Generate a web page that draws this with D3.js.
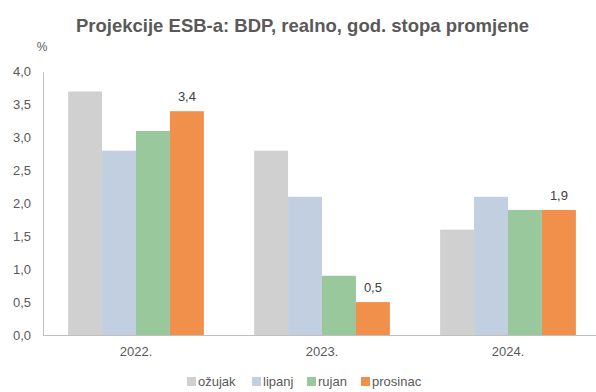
<!DOCTYPE html>
<html><head><meta charset="utf-8">
<script src="https://cdn.jsdelivr.net/npm/d3@7"></script>
<style>body{margin:0;background:#fff}svg{display:block}</style>
</head><body>
<svg id="c" width="596" height="392"></svg>
<script>
const categories = ["2022.", "2023.", "2024."];
const seriesNames = ["ožujak", "lipanj", "rujan", "prosinac"];
const ozujak = [3.7, 2.8, 1.6];
const lipanj = [2.8, 2.1, 2.1];
const rujan = [3.1, 0.9, 1.9];
const prosinac = [3.4, 0.5, 1.9];
const yTicks = [0, 0.5, 1, 1.5, 2, 2.5, 3, 3.5, 4];
const colors = ["#d0d0d0", "#c2cfe0", "#98c89b", "#f0904a"];
const series = [ozujak, lipanj, rujan, prosinac];

const svg = d3.select("#c");
const font = "'Liberation Sans', Arial, sans-serif";
const txt = "#595959";
const fmt = v => d3.format(".1f")(v).replace(".", ",");

const x0 = d3.scaleBand().domain(categories).range([43, 601]).paddingInner(0.27).paddingOuter(0.135);
const x1 = d3.scaleBand().domain(seriesNames).range([0, x0.bandwidth()]);
const y = d3.scaleLinear().domain([0, 4]).range([335, 71.7]);

svg.append("text").attr("x", 302.5).attr("y", 32).attr("text-anchor", "middle")
  .attr("font-family", font).attr("font-size", 18.5).attr("font-weight", "bold").attr("fill", txt)
  .text("Projekcije ESB-a: BDP, realno, god. stopa promjene");

svg.append("text").attr("x", 42).attr("y", 51).attr("text-anchor", "middle")
  .attr("font-family", font).attr("font-size", 12).attr("fill", txt).text("%");

const yAxis = svg.append("g").attr("transform", "translate(43,0)")
  .call(d3.axisLeft(y).tickValues(yTicks).tickFormat(fmt).tickSize(0).tickPadding(12));
yAxis.select(".domain").attr("stroke", "#bfbfbf");
yAxis.selectAll("text").attr("font-family", font).attr("font-size", 13).attr("fill", txt);

const g = svg.append("g");
categories.forEach((c, i) => {
  series.forEach((s, j) => {
    g.append("rect").attr("x", x0(c) + x1(seriesNames[j])).attr("y", y(s[i]))
      .attr("width", x1.bandwidth()).attr("height", y(0) - y(s[i])).attr("fill", colors[j]);
  });
  g.append("text").attr("x", x0(c) + x1("prosinac") + x1.bandwidth() / 2).attr("y", y(prosinac[i]) - 10)
    .attr("text-anchor", "middle").attr("font-family", font).attr("font-size", 13).attr("fill", "#404040")
    .text(fmt(prosinac[i]));
});

const xAxis = svg.append("g").attr("transform", "translate(0,335)")
  .call(d3.axisBottom(x0).tickSize(0).tickPadding(12));
xAxis.select(".domain").attr("stroke", "#bfbfbf").attr("d", "M43,0.5H596");
xAxis.selectAll("text").attr("font-family", font).attr("font-size", 13).attr("fill", txt);

const legX = [187, 252, 307, 361];
seriesNames.forEach((n, j) => {
  svg.append("rect").attr("x", legX[j]).attr("y", 377).attr("width", 9).attr("height", 9).attr("fill", colors[j]);
  svg.append("text").attr("x", legX[j] + 11).attr("y", 386).attr("font-family", font).attr("font-size", 13)
    .attr("fill", txt).text(n);
});
</script>
</body></html>
